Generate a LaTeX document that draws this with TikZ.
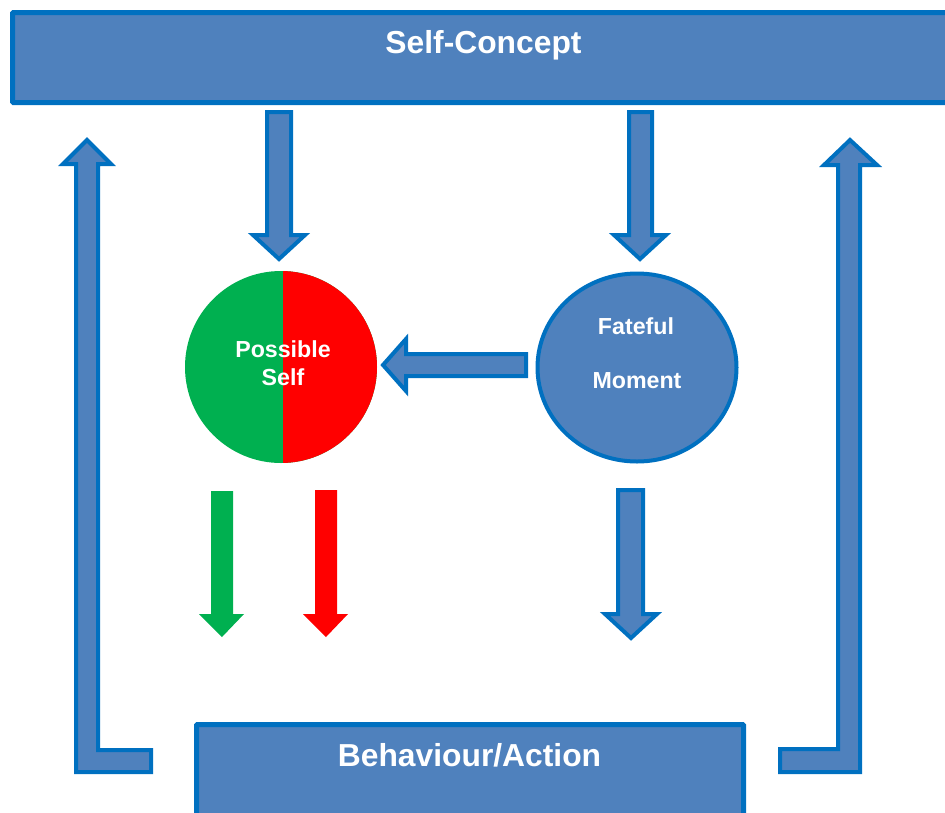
\documentclass[tikz,border=0pt]{standalone}
\usepackage{fontspec}
\setmainfont{Liberation Sans}
\usetikzlibrary{shapes.geometric}
\definecolor{boxfill}{HTML}{4F81BD}
\definecolor{boxline}{HTML}{0070C0}
\definecolor{posgreen}{HTML}{00B050}
\definecolor{negred}{HTML}{FF0000}
\begin{document}
\begin{tikzpicture}[x=1pt,y=-1pt,
  blockarrow/.style={fill=boxfill,draw=boxline,line width=4pt,line join=miter},
  bar/.style={fill=boxfill,draw=boxline,line width=5pt,rounded corners=1pt},
  bigtext/.style={text=white,font=\fontsize{31.8}{36}\selectfont\bfseries,inner sep=0pt,anchor=base},
  smalltext/.style={text=white,font=\fontsize{23.2}{26}\selectfont\bfseries,inner sep=0pt,anchor=base}]
\useasboundingbox (0,0) rectangle (945,812);
\clip (0,0) rectangle (945,812);

% top and bottom bars
\draw[bar] (12.5,12.5) rectangle (960,102.5);
\node[bigtext] (selfconcept) at (483.5,53) {Self-Concept};
\draw[bar] (196.5,724.5) rectangle (743.5,840);
\node[bigtext] (behaviour) at (469.5,766) {Behaviour/Action};

% possible self: green and red halves
\coordinate (possible) at (281,367);
\fill[posgreen] (possible) circle (96);
\begin{scope}
  \clip (283,250) rectangle (400,480);
  \fill[negred] (possible) circle (96);
\end{scope}
\node[smalltext] (possibleA) at (283,357) {Possible};
\node[smalltext] (possibleB) at (283,385) {Self};

% fateful moment
\draw[fill=boxfill,draw=boxline,line width=4pt] (637,367.5) ellipse (99.5 and 94);
\node[smalltext] (fatefulA) at (636,334) {Fateful};
\node[smalltext] (fatefulB) at (637,388) {Moment};

% arrows from the self-concept
\draw[blockarrow] (267,112) -- (291,112) -- (291,235) -- (305,235) -- (279,259) -- (253,235) -- (267,235) -- cycle;
\draw[blockarrow] (629,112) -- (652,112) -- (652,235) -- (666,235) -- (640,259) -- (614,235) -- (629,235) -- cycle;

% fateful moment to possible self
\draw[blockarrow] (383,365) -- (406,339) -- (406,354) -- (526,354) -- (526,376) -- (406,376) -- (406,391) -- cycle;

% arrows towards behaviour
\fill[posgreen] (211,491) -- (233,491) -- (233,614) -- (244,614) -- (222,637) -- (199,614) -- (211,614) -- cycle;
\fill[negred] (315,490) -- (337,490) -- (337,614) -- (348,614) -- (326,637) -- (303,614) -- (315,614) -- cycle;
\draw[blockarrow] (618,490) -- (643,490) -- (643,614) -- (657,614) -- (631,638) -- (605,614) -- (618,614) -- cycle;

% feedback arrows back to the self-concept
\draw[blockarrow] (87,140) -- (111,164) -- (98,164) -- (98,750) -- (151,750) -- (151,772) -- (76,772) -- (76,164) -- (63,164) -- cycle;
\draw[blockarrow] (850,140) -- (877,165) -- (860,165) -- (860,772) -- (780,772) -- (780,749) -- (838,749) -- (838,165) -- (824,165) -- cycle;
\end{tikzpicture}
\end{document}
